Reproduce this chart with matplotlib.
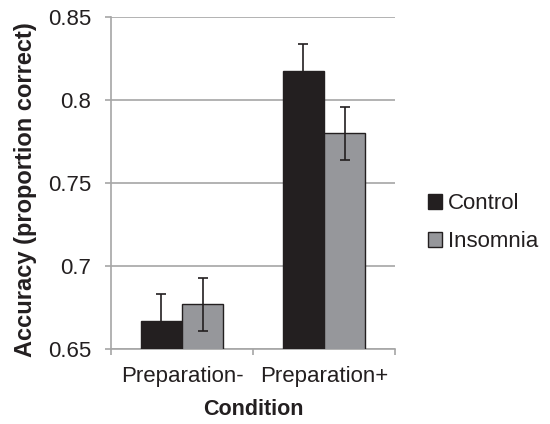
import matplotlib.pyplot as plt
import numpy as np

plt.rcParams['font.family'] = ['Liberation Sans', 'DejaVu Sans']

conditions = ['Preparation-', 'Preparation+']
control = [0.667, 0.8175]
insomnia = [0.677, 0.780]
control_err = [0.016, 0.016]
insomnia_err = [0.016, 0.016]

fig = plt.figure(figsize=(5.5, 4.24), dpi=100)
ax = fig.add_axes([0.202, 0.177, 0.516, 0.783])

x = np.arange(len(conditions))
w = 0.29
err_kw = dict(ecolor='#231f20', elinewidth=1.2, capsize=3.3, capthick=1.2)
ax.bar(x - w / 2, control, w, color='#231f20', edgecolor='#231f20', linewidth=1,
       yerr=control_err, error_kw=err_kw, label='Control', zorder=3)
ax.bar(x + w / 2, insomnia, w, color='#96979b', edgecolor='#231f20', linewidth=1,
       yerr=insomnia_err, error_kw=err_kw, label='Insomnia', zorder=3)

ax.set_ylim(0.65, 0.85)
ax.set_xlim(-0.5, 1.5)
ax.set_yticks([0.65, 0.7, 0.75, 0.8, 0.85])
ax.set_yticklabels(['0.65', '0.7', '0.75', '0.8', '0.85'])
ax.yaxis.grid(True, color='#a6a6a6', linewidth=1.2)
ax.set_axisbelow(True)

for s in ['top', 'right']:
    ax.spines[s].set_visible(False)
for s in ['left', 'bottom']:
    ax.spines[s].set_color('#a6a6a6')
    ax.spines[s].set_linewidth(1.2)

ax.set_xticks(x)
ax.set_xticklabels(conditions)
ax.set_xticks([-0.5, 0.5, 1.5], minor=True)
ax.tick_params(axis='x', which='major', length=0, labelsize=16, pad=12, colors='#231f20')
ax.tick_params(axis='x', which='minor', length=4.5, color='#a6a6a6', width=1.2)
ax.tick_params(axis='y', length=4.5, color='#a6a6a6', width=1.2, labelsize=16,
               pad=10, labelcolor='#231f20')

ax.set_xlabel('Condition', fontsize=15.5, fontweight='bold', color='#231f20', labelpad=9)
ax.set_ylabel('Accuracy (proportion correct)', fontsize=17, fontweight='bold',
              color='#231f20')
ax.yaxis.set_label_coords(-0.262, 0.48)

ax.legend(loc='center left', bbox_to_anchor=(1.045, 0.38), frameon=False,
          fontsize=16, handlelength=0.65, handleheight=0.65, handletextpad=0.25,
          labelspacing=0.75, labelcolor='#231f20')

fig.savefig('out.png', dpi=100)
